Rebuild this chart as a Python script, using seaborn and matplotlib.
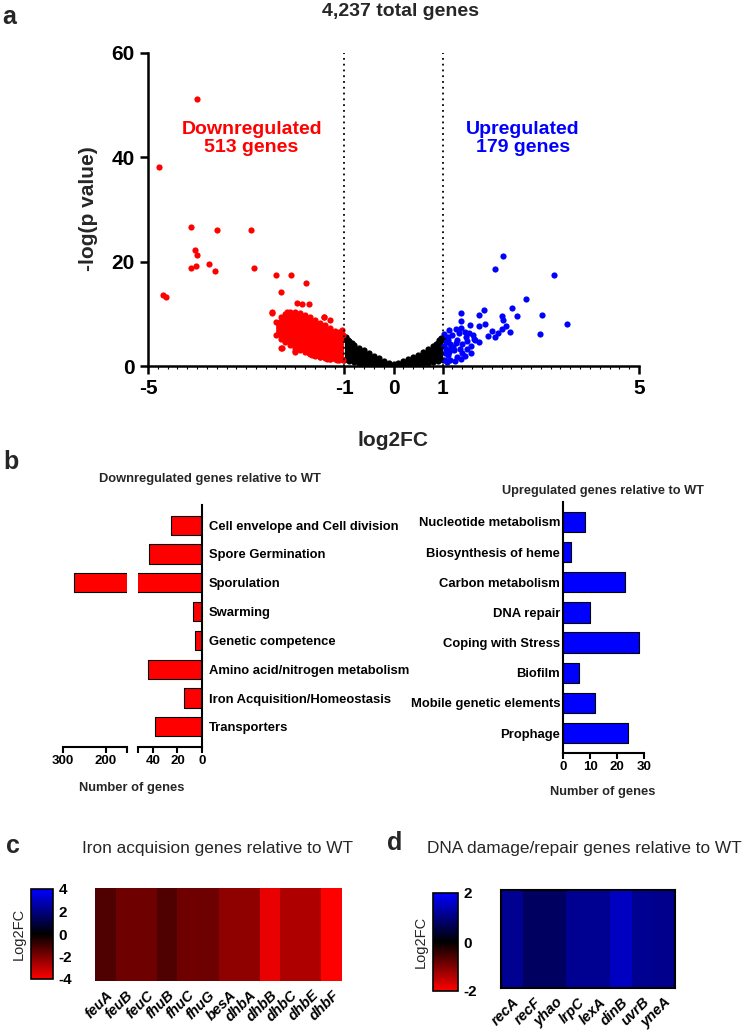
import matplotlib
matplotlib.use('Agg')
import matplotlib.pyplot as plt
from matplotlib.colors import LinearSegmentedColormap
from matplotlib.ticker import MultipleLocator
import pandas as pd
import seaborn as sns

# ---------------- panel a: volcano plot ----------------
total_genes = '4,237'
n_down, n_up = 513, 179
fc_cutoff = 1

# non-significant genes: lower / upper edge of the black band per log2FC
black_x = [-1.0, -0.9, -0.8, -0.7, -0.6, -0.5, -0.4, -0.3, -0.2, -0.1, 0.0,
           0.1, 0.2, 0.3, 0.4, 0.5, 0.6, 0.7, 0.8, 0.9, 1.0]
black_top = [5.3, 4.7, 4.1, 3.5, 3.0, 2.5, 2.0, 1.5, 1.0, 0.6, 0.4,
             0.55, 0.9, 1.3, 1.7, 2.2, 2.7, 3.2, 3.8, 4.4, 5.1]
black_bottom = [1.2, 1.0, 0.8, 0.6, 0.45, 0.35, 0.25, 0.15, 0.08, 0.03, 0.0,
                0.03, 0.08, 0.15, 0.25, 0.35, 0.5, 0.6, 0.75, 0.9, 1.1]
black_extra_x = [-0.97, -0.92, -0.85, 0.96, 0.93, 0.86]
black_extra_y = [5.6, 5.0, 4.5, 5.4, 4.9, 4.2]

# dense core of downregulated genes
red_core_x = [-2.4, -2.3, -2.2, -2.1, -2.0, -1.9, -1.8, -1.7, -1.6, -1.5,
              -1.4, -1.3, -1.2, -1.1, -1.02]
red_core_top = [8.4, 9.4, 10.0, 10.4, 10.4, 10.2, 9.8, 9.4, 8.8, 8.2,
                7.8, 7.2, 6.8, 6.4, 6.0]
red_core_bottom = [6.0, 5.2, 4.6, 4.0, 3.5, 3.0, 2.6, 2.3, 2.0, 1.8,
                   1.6, 1.4, 1.3, 1.2, 1.1]
# scattered downregulated genes
red_x = [-4.78, -4.0, -4.69, -4.63, -4.12, -3.59, -2.90, -4.04, -4.00, -4.12,
         -4.02, -3.75, -3.63, -2.84, -2.39, -2.08, -1.78, -2.29, -2.47, -2.29,
         -2.00, -1.97, -1.86, -1.73, -2.17, -1.42, -1.29, -1.10, -2.27, -2.00,
         -1.66, -1.59, -2.07, -1.29, -1.12, -1.49, -2.48, -2.32, -2.22, -2.24,
         -2.12, -2.17, -1.82, -1.73, -1.35, -1.15, -1.08, -1.05, -1.41]
red_y = [38.2, 51.2, 13.6, 13.2, 26.7, 26.1, 26.1, 22.2, 21.3, 18.8,
         19.2, 19.5, 18.3, 18.8, 17.4, 17.5, 16.0, 14.1, 10.3, 3.4,
         2.8, 12.0, 11.8, 11.8, 10.4, 9.3, 8.9, 6.5, 3.4, 2.7,
         2.1, 3.0, 4.9, 1.4, 1.6, 1.7, 10.2, 8.4, 8.9, 7.8,
         6.9, 4.9, 3.6, 2.4, 1.4, 1.2, 2.1, 6.9, 9.4]

# upregulated genes
blue_x = [2.22, 2.07, 3.26, 2.70, 2.42, 1.84, 1.37, 1.75, 2.51, 3.03,
          2.21, 2.24, 3.54, 1.87, 2.29, 1.37, 1.75, 2.01, 2.12, 2.20,
          2.37, 2.99, 1.92, 2.06, 1.56, 1.54, 1.64, 1.75,
          1.13, 1.27, 1.20, 1.37, 1.45, 1.10, 1.30, 1.16, 1.40, 1.57,
          1.06, 1.23, 1.50, 1.11, 1.30, 1.16, 1.37, 1.06, 1.04, 1.04,
          1.47, 1.57, 1.67, 1.61, 1.33, 1.22, 1.40, 1.13, 1.02, 1.08,
          1.25, 1.18, 1.28, 1.35, 1.45, 1.50, 1.02, 1.10]
blue_y = [21.1, 18.5, 17.5, 12.8, 11.2, 10.8, 10.2, 9.7, 9.5, 9.7,
          9.5, 8.9, 8.0, 8.1, 7.7, 8.7, 7.6, 6.7, 6.3, 7.0,
          6.5, 6.1, 5.7, 5.6, 7.8, 6.3, 5.1, 4.6,
          6.9, 7.0, 5.9, 7.2, 6.6, 5.6, 5.0, 4.3, 4.3, 3.9,
          3.3, 3.0, 3.3, 2.1, 1.7, 1.1, 1.4, 4.6, 2.4, 1.1,
          5.6, 2.4, 5.0, 5.9, 6.3, 3.7, 2.5, 2.7, 6.2, 0.7,
          1.0, 3.5, 4.5, 3.3, 2.0, 4.8, 3.8, 5.0]

# ---------------- panel b: functional categories ----------------
down_categories = ['Cell envelope and Cell division', 'Spore Germination',
                   'Sporulation', 'Swarming', 'Genetic competence',
                   'Amino acid/nitrogen metabolism',
                   'Iron Acquisition/Homeostasis', 'Transporters']
down_counts = [25, 43, 275, 7, 6, 44, 15, 38]
up_categories = ['Nucleotide metabolism', 'Biosynthesis of heme',
                 'Carbon metabolism', 'DNA repair', 'Coping with Stress',
                 'Biofilm', 'Mobile genetic elements', 'Prophage']
up_counts = [8, 3, 23, 10, 28, 6, 12, 24]

# ---------------- panels c, d: heatmaps ----------------
iron_genes = ['feuA', 'feuB', 'feuC', 'fhuB', 'fhuC', 'fhuG', 'besA', 'dhbA',
              'dhbB', 'dhbC', 'dhbE', 'dhbF']
iron_log2fc = [-1.25, -1.75, -1.75, -1.25, -1.75, -1.7, -2.25, -2.25,
               -3.65, -2.75, -2.75, -4.0]
dna_genes = ['recA', 'recF', 'yhao', 'lrpC', 'lexA', 'dinB', 'uvrB', 'yneA']
dna_log2fc = [1.13, 0.75, 0.75, 1.13, 1.13, 1.5, 1.13, 1.1]

sns.set_style('ticks')
plt.rcParams['font.family'] = ['Liberation Sans', 'DejaVu Sans']
plt.rcParams['font.weight'] = 'bold'
plt.rcParams['axes.unicode_minus'] = False
plt.rcParams['axes.edgecolor'] = 'black'
plt.rcParams['xtick.color'] = 'black'
plt.rcParams['ytick.color'] = 'black'

W, H = 750, 1033
fig = plt.figure(figsize=(W / 100, H / 100), dpi=100)


def box(x0, y0, x1, y1):
    # pixel box (top-left origin) -> figure fraction rect
    return [x0 / W, 1 - y1 / H, (x1 - x0) / W, (y1 - y0) / H]


def ftext(x, y, s, **kw):
    kw.setdefault('ha', 'center')
    kw.setdefault('va', 'center')
    fig.text(x / W, 1 - y / H, s, **kw)


# ---- a ----
ax = fig.add_axes(box(148, 53, 639, 366))
dot = 20
ax.fill_between(black_x, black_bottom, black_top, color='black', lw=0)
sns.scatterplot(x=black_x + black_x + black_extra_x,
                y=black_top + black_bottom + black_extra_y,
                color='black', s=dot, linewidth=0, ax=ax)
ax.fill_between(red_core_x, red_core_bottom, red_core_top, color='red', lw=0)
sns.scatterplot(x=red_core_x + red_core_x + red_x,
                y=red_core_top + red_core_bottom + red_y,
                color='red', s=dot, linewidth=0, ax=ax)
sns.scatterplot(x=blue_x, y=blue_y, color='blue', s=dot, linewidth=0, ax=ax)
for v in (-fc_cutoff, fc_cutoff):
    ax.axvline(v, color='black', lw=1.3, ls=(0, (1, 2.2)))
ax.set_xlim(-5, 5)
ax.set_ylim(0, 60)
ax.set_xticks([-5, -1, 0, 1, 5])
ax.set_yticks([0, 20, 40, 60])
ax.xaxis.set_minor_locator(MultipleLocator(0.2))
ax.tick_params(which='major', labelsize=15, width=1.8, length=6)
ax.tick_params(which='minor', axis='x', width=0.8, length=2.5)
for s in ax.spines.values():
    s.set_linewidth(1.8)
sns.despine(ax=ax)
ax.set_xlabel('')
ax.set_ylabel('')
ax.text(-2.89, 43.6, f'Downregulated\n{n_down} genes', color='red',
        fontsize=14, ha='center', va='center', linespacing=1.05)
ax.text(2.64, 43.6, f'Upregulated\n{n_up} genes', color='blue',
        fontsize=14, ha='center', va='center', linespacing=1.05)
ftext(401, 12, f'{total_genes} total genes', fontsize=14)
ftext(88, 209, '-log(p value)', fontsize=15, rotation=90)
ftext(393, 440, 'log2FC', fontsize=15)
ftext(9, 17, 'a', fontsize=18)

# ---- b, downregulated (broken axis) ----
down_df = pd.DataFrame({'category': down_categories, 'genes': down_counts})
up_df = pd.DataFrame({'category': up_categories, 'genes': up_counts})

axL = fig.add_axes(box(63, 505, 127, 747))
axR = fig.add_axes(box(138, 505, 202, 747))
for a in (axL, axR):
    sns.barplot(data=down_df, y='category', x='genes', order=down_categories,
                color='red', saturation=1, edgecolor='black', linewidth=0.8,
                width=0.67, orient='h', ax=a)
    a.set_ylim(7.7, -0.7)
    a.set_xlabel('')
    a.set_ylabel('')
    for s in a.spines.values():
        s.set_linewidth(1.5)
    a.tick_params(axis='x', labelsize=9.5, width=1.5, length=4, pad=2)
axL.set_xlim(300, 150)
axL.set_xticks([300, 200, 150], ['300', '200', ''])
axL.set_yticks([])
sns.despine(ax=axL, left=True)
axR.set_xlim(52, 0)
axR.set_xticks([52, 40, 20, 0], ['', '40', '20', '0'])
sns.despine(ax=axR, left=True, right=False)
axR.yaxis.tick_right()
axR.tick_params(axis='y', length=0, pad=5, labelsize=9.4)
ftext(210, 479, 'Downregulated genes relative to WT', fontsize=9.3)
ftext(132, 788, 'Number of genes', fontsize=9.3)
ftext(11, 462, 'b', fontsize=18)

# ---- b, upregulated ----
axU = fig.add_axes(box(563, 502, 644, 753))
sns.barplot(data=up_df, y='category', x='genes', order=up_categories,
            color='blue', saturation=1, edgecolor='black', linewidth=0.8,
            width=0.67, orient='h', ax=axU)
axU.set_ylim(7.66, -0.66)
axU.set_xlim(0, 30)
axU.set_xticks([0, 10, 20, 30])
axU.set_xlabel('')
axU.set_ylabel('')
for s in axU.spines.values():
    s.set_linewidth(1.5)
sns.despine(ax=axU)
axU.tick_params(axis='x', labelsize=9.5, width=1.5, length=4, pad=2)
axU.tick_params(axis='y', length=0, pad=2, labelsize=9.4)
ftext(603, 491, 'Upregulated genes relative to WT', fontsize=9.2)
ftext(603, 792, 'Number of genes', fontsize=9.3)

# ---- c, d heatmaps ----
fc_cmap = LinearSegmentedColormap.from_list('fc', ['#ff0000', '#000000', '#0000ff'])


def heat(values, genes, rect, cbar_rect, lim, ticks, border):
    hx = fig.add_axes(box(*rect))
    cx = fig.add_axes(box(*cbar_rect))
    sns.heatmap(pd.DataFrame([values], columns=genes), cmap=fc_cmap,
                vmin=-lim, vmax=lim, ax=hx, cbar_ax=cx, yticklabels=False,
                cbar_kws={'ticks': ticks})
    hx.set_xticks([i + 0.5 for i in range(len(genes))])
    hx.set_xticklabels(genes, rotation=45, ha='right', rotation_mode='anchor',
                       fontstyle='italic', fontweight='bold', fontsize=10.5)
    hx.tick_params(axis='x', length=0, pad=5)
    if border:
        for s in hx.spines.values():
            s.set_visible(True)
            s.set_linewidth(1.5)
            s.set_color('black')
    cb = hx.collections[0].colorbar
    cb.outline.set_edgecolor('black')
    cb.outline.set_linewidth(1.2)
    cx.tick_params(length=0, labelsize=11, pad=4)
    cx.set_ylabel('Log2FC', fontsize=10.5, fontweight='normal', labelpad=4)
    cx.yaxis.set_label_position('left')
    return hx


heat(iron_log2fc, iron_genes, (95, 888, 342, 981), (31, 889, 53, 979),
     4, [-4, -2, 0, 2, 4], False)
heat(dna_log2fc, dna_genes, (501, 890, 675, 988), (433, 893, 458, 991),
     2, [-2, 0, 2], True)
ftext(217, 848, 'Iron acquision genes relative to WT', fontsize=12.4, fontweight='normal')
ftext(584, 848, 'DNA damage/repair genes relative to WT', fontsize=12.4, fontweight='normal')
ftext(13, 846, 'c', fontsize=18)
ftext(395, 843, 'd', fontsize=18)

fig.savefig('out.png', dpi=100, facecolor='white')
